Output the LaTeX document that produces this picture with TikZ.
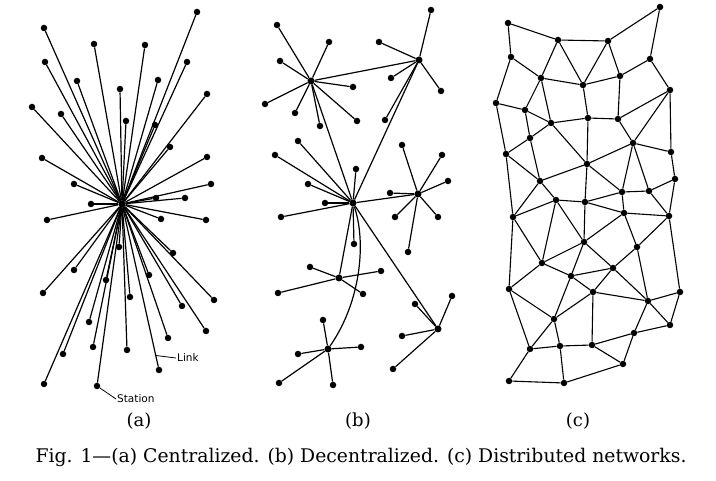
\documentclass[tikz,border=0pt]{standalone}
\usepackage{fontspec}
\setmainfont{DejaVu Serif}
\newfontfamily\leroy{DejaVu Sans}
\tikzset{
  station/.style={circle,fill=black,inner sep=0pt,minimum size=6.5pt},
  hub/.style={circle,fill=black,inner sep=0pt,minimum size=7pt},
  link/.style={line width=1.2pt},
  mesh/.style={line width=1.1pt},
  tag/.style={font=\leroy\fontsize{10.5}{12}\selectfont,inner sep=1pt},
  sublabel/.style={font=\fontsize{18}{20}\selectfont},
}
\begin{document}
\begin{tikzpicture}[x=1pt,y=-1pt]
    \useasboundingbox (0,0) rectangle (716,481);
    % (a) centralized
    \node[hub] (ahub) at (122,204) {};
    \foreach \x/\y [count=\i] in {44/28, 94/44, 145/45, 197/12, 45/62, 77/81,
        120/89, 158/80, 187/62, 207/94, 32/107, 61/114, 126/121, 155/125,
        170/147, 42/158, 207/157, 74/184, 211/184, 156/198, 185/198, 91/204,
        47/220, 161/219, 206/220, 119/247, 173/253, 74/270, 106/280, 149/275,
        43/293, 130/297, 182/306, 214/300, 89/322, 206/331, 168/338, 93/347,
        63/354, 127/350, 44/384, 159/370, 97/386}
    {
    \node[station] (a\i) at (\x,\y) {};
    \draw[link] (ahub) -- (a\i);
    }
    \path (ahub) -- (a42) coordinate[pos=0.93] (linkpt);
    \node[tag,anchor=west] (linktag) at (176,358) {Link};
    \draw[line width=0.8pt] (linkpt) -- (linktag.west);
    \node[tag,anchor=west] (stationtag) at (116,399) {Station};
    \draw[line width=0.8pt] (a43) -- (stationtag.west);
    % (b) decentralized
    \node[hub] (bA) at (311,81) {};
    \node[hub] (bB) at (419,60) {};
    \node[hub] (bC) at (353,203) {};
    \node[hub] (bD) at (418,194) {};
    \node[hub] (bE) at (339,278) {};
    \node[hub] (bF) at (328,349) {};
    \node[hub] (bG) at (438,329) {};
    \foreach \h/\x/\y [count=\i] in {bA/277/25, bA/329/42, bA/280/61,
        bA/265/104, bA/295/113, bA/320/126, bA/357/121, bA/353/87,
        bB/431/10, bB/379/42, bB/391/78, bB/441/91, bB/385/120,
        bC/275/155, bC/298/141, bC/356/169, bC/308/184, bC/325/203,
        bC/281/217, bC/354/244,
        bD/402/145, bD/442/155, bD/448/181, bD/390/193, bD/395/217,
        bD/438/217, bD/408/252,
        bE/310/267, bE/381/271, bE/278/293, bE/363/294,
        bF/323/320, bF/298/354, bF/361/347, bF/279/383, bF/333/385,
        bG/415/304, bG/452/296, bG/402/336, bG/393/369}
    {
    \node[station] (b\i) at (\x,\y) {};
    \draw[link] (\h) -- (b\i);
    }
    \draw[link] (bA) -- (bB) (bA) -- (bC) (bB) -- (bC) (bC) -- (bD)
        (bC) -- (bE) (bC) -- (bG);
    \draw[link] (bC) .. controls (366,240) and (362,300) .. (bF);
    % (c) distributed
    \foreach \x/\y [count=\i] in {508/23, 558/40, 608/41, 660/7, 511/57,
        541/78, 583/85, 620/76, 650/59, 670/90, 496/103, 525/110, 551/123,
        588/118, 618/119, 530/138, 633/143, 506/154, 671/152, 587/164,
        540/181, 675/179, 622/192, 649/191, 556/200, 585/202, 624/213,
        513/217, 669/216, 584/242, 637/247, 542/263, 613/268, 571/276,
        509/289, 593/292, 680/292, 648/301, 554/319, 670/325, 634/333,
        560/346, 592/345, 530/349, 623/364, 509/381, 564/383}
    {
    \node[station] (c\i) at (\x,\y) {};
    }
    \foreach \u/\v in {1/2, 1/5, 2/3, 3/4, 4/9, 2/6, 2/7, 3/7, 3/8, 5/6,
        5/11, 6/7, 7/8, 8/9, 9/10, 6/12, 6/13, 7/14, 8/15, 11/12, 12/13,
        13/14, 14/15, 15/10, 10/17, 10/19, 11/18, 12/16, 13/16, 13/20,
        14/20, 15/17, 16/18, 16/21, 18/21, 18/28, 20/21, 20/17, 20/26,
        20/23, 17/19, 17/23, 17/24, 19/22, 22/24, 22/29, 23/24, 23/26,
        23/27, 24/29, 21/25, 21/28, 25/26, 25/28, 25/30, 25/32, 26/27,
        26/30, 27/29, 27/30, 27/31, 28/32, 29/31, 30/32, 30/33, 30/34,
        32/34, 32/35, 34/33, 34/36, 34/39, 33/36, 33/38, 33/31, 31/38,
        29/37, 28/35, 35/39, 35/44, 36/39, 36/38, 36/43, 38/37, 38/40,
        38/41, 37/40, 40/41, 41/43, 41/45, 39/44, 39/42, 42/44, 42/43,
        42/47, 43/45, 44/46, 46/47, 47/45}
    {
    \draw[mesh] (c\u) -- (c\v);
    }
    % labels
    \node[sublabel] (capa) at (139,421) {(a)};
    \node[sublabel] (capb) at (358,421) {(b)};
    \node[sublabel] (capc) at (578,421) {(c)};
    \node[font=\fontsize{18.8}{20}\selectfont] (caption) at (361,457)
        {Fig. 1\textemdash(a) Centralized. (b) Decentralized. (c) Distributed networks.};
\end{tikzpicture}
\end{document}
